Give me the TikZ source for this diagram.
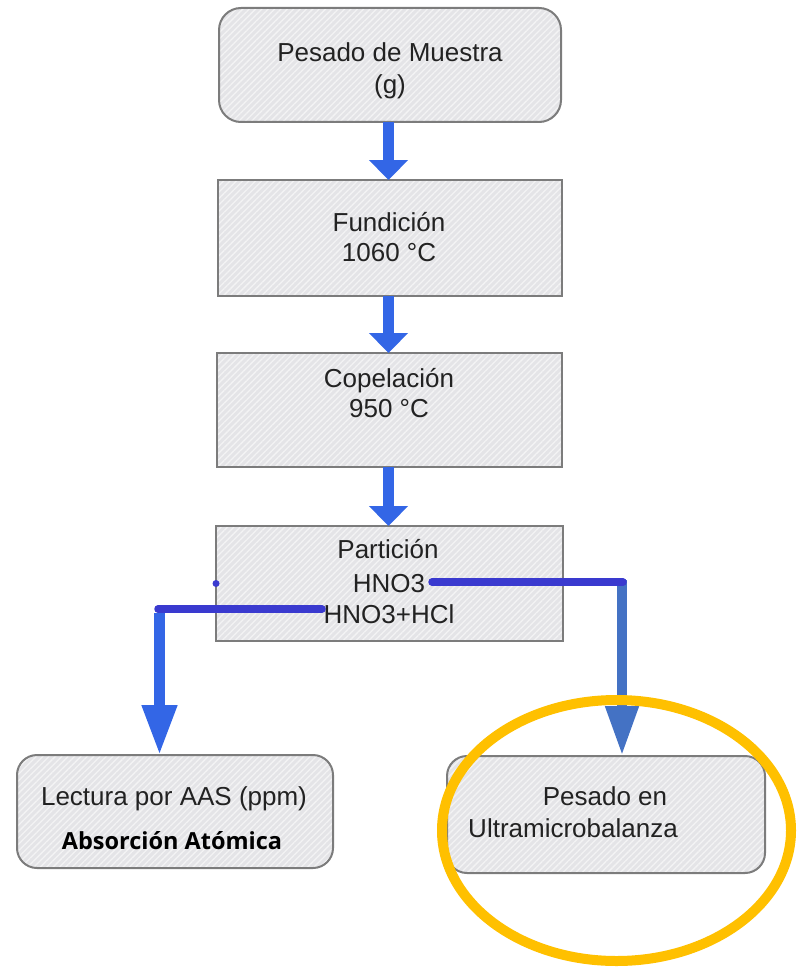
\documentclass[tikz,border=0pt]{standalone}
\usepackage{fontspec}
\setmainfont{Liberation Sans}
\newfontfamily\boldlabel{Open Sans}[UprightFont=* Bold]
\usetikzlibrary{arrows.meta,patterns.meta}

\definecolor{boxfill}{HTML}{E4E4E7}
\definecolor{hatch}{HTML}{F3F3F4}
\definecolor{boxline}{HTML}{7C7C7C}
\definecolor{flowblue}{HTML}{3366E6}
\definecolor{branchblue}{HTML}{3A3ACF}
\definecolor{steelblue}{HTML}{4472C4}
\definecolor{txt}{HTML}{222222}
\definecolor{gold}{HTML}{FFC000}

\tikzset{
  stagebox/.style={draw=boxline, line width=2pt, inner sep=0pt, outer sep=0pt,
    preaction={fill=boxfill},
    pattern={Lines[angle=45,distance=4.5pt,line width=1.3pt]}, pattern color=hatch},
  roundbox/.style={stagebox, rounded corners=22pt},
  lbl/.style={anchor=base, inner sep=0pt, text=txt, font=\fontsize{26}{30}\selectfont},
  boldlbl/.style={anchor=base, inner sep=0pt, text=black, font=\boldlabel\fontsize{23.5}{28}\selectfont},
  flow/.style={draw=flowblue, line width=10.5pt,
    -{Triangle[length=20pt,width=38pt,fill=flowblue]}},
  branch/.style={draw=branchblue, line width=7.5pt, line cap=round},
  drop/.style={line width=10.5pt},
  highlight/.style={draw=gold, line width=10pt}
}

\begin{document}
\begin{tikzpicture}[x=1pt,y=-1pt]
\useasboundingbox (0,0) rectangle (802,971);

% process stages
\node[roundbox, minimum width=342pt, minimum height=114pt] (b1) at (390,65) {};
\node[stagebox, minimum width=344pt, minimum height=116pt] (b2) at (389.5,238) {};
\node[stagebox, minimum width=345pt, minimum height=114pt] (b3) at (389.5,410) {};
\node[stagebox, minimum width=347pt, minimum height=115pt] (b4) at (389.5,583.5) {};
\node[roundbox, rounded corners=20pt, minimum width=316pt, minimum height=113pt] (b5) at (175,811.5) {};
\node[roundbox, rounded corners=20pt, minimum width=318pt, minimum height=117pt] (b6) at (606,814.5) {};

% stage texts
\node[lbl] (t1a) at (390,62) {Pesado de Muestra};
\node[lbl] (t1b) at (390,94) {(g)};
\node[lbl] (t2a) at (389,231) {Fundición};
\node[lbl] (t2b) at (389,261) {1060 °C};
\node[lbl] (t3a) at (389,387) {Copelación};
\node[lbl] (t3b) at (389,417) {950 °C};
\node[lbl] (t4a) at (388,558) {Partición};
\node[lbl] (t4b) at (389,592) {HNO3};
\node[lbl] (t4c) at (389,623) {HNO3+HCl};
\node[lbl] (t5a) at (174,805) {Lectura por AAS (ppm)};
\node[boldlbl] (t5b) at (172,849) {Absorción Atómica};
\node[lbl] (t6a) at (605,805) {Pesado en};
\node[lbl] (t6b) at (573,837) {Ultramicrobalanza};

% main sequence
\draw[flow] ([xshift=-1.5pt]b1.south) -- ([xshift=-1pt]b2.north);
\draw[flow] ([xshift=-1pt]b2.south) -- ([xshift=-1pt]b3.north);
\draw[flow] ([xshift=-1pt]b3.south) -- ([xshift=-1pt]b4.north);

% branches out of the partition step
\coordinate (hclstart) at (322,609);
\coordinate (lturn) at (159.5,609);
\coordinate (hnostart) at (432,582);
\coordinate (rturn) at (622,582);
\draw[drop, draw=flowblue, -{Triangle[length=50pt,width=33pt,fill=flowblue]}] ([yshift=-4pt]lturn) -- (lturn |- b5.north);
\draw[drop, draw=steelblue, -{Triangle[length=50pt,width=31pt,fill=steelblue]}] ([yshift=2pt]rturn) -- (rturn |- b6.north);
\draw[branch] (hclstart) -- ([xshift=-1.5pt]lturn);
\draw[branch] (hnostart) -- ([xshift=1pt]rturn);
\fill[branchblue] (b4.west) circle (3.5pt);

% highlight ring
\draw[highlight] (616.5,830.5) ellipse [x radius=174.5, y radius=130.5];
\end{tikzpicture}
\end{document}
